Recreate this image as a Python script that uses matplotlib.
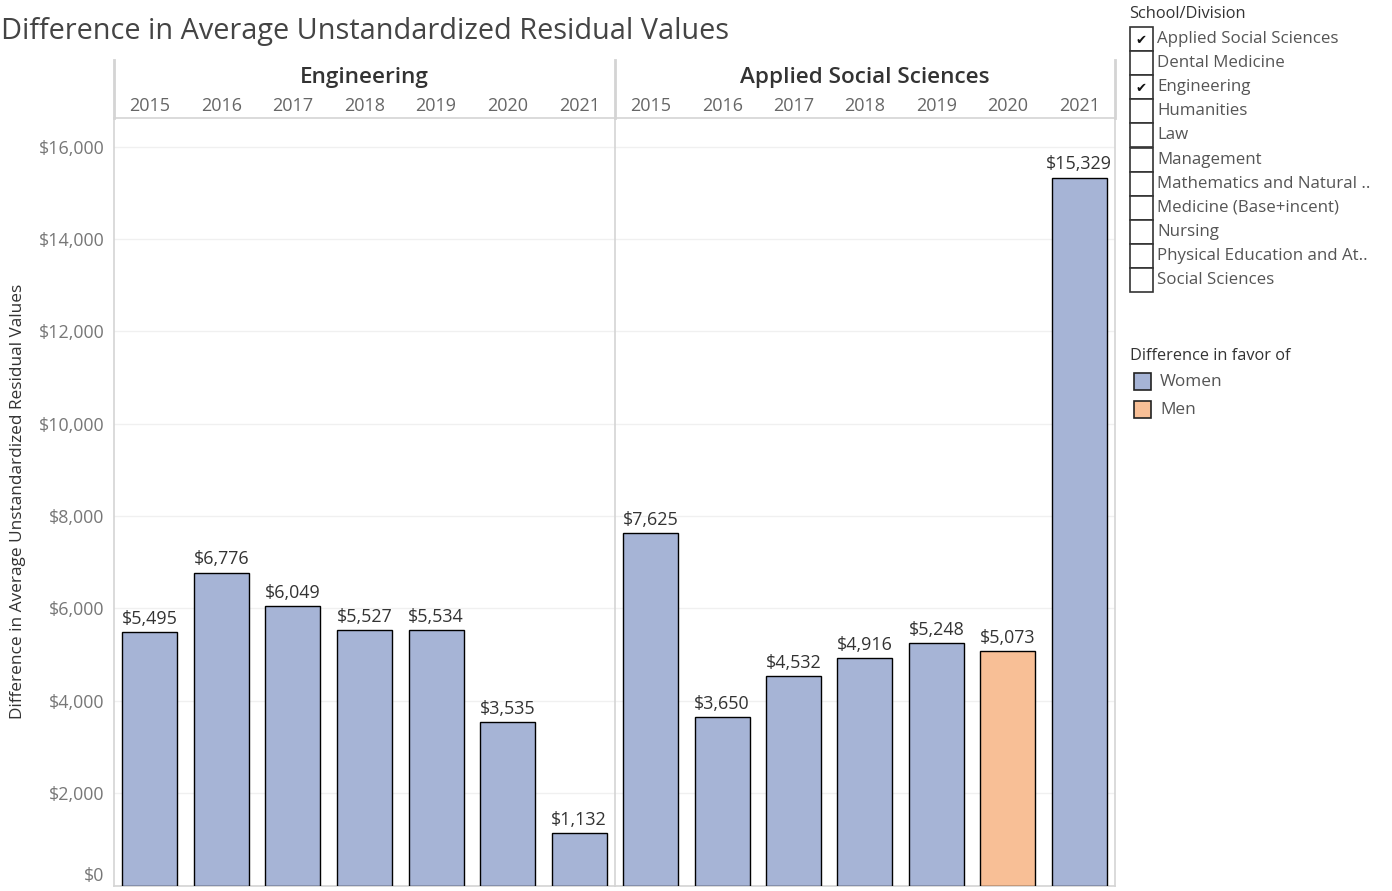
import matplotlib
matplotlib.use("Agg")
import matplotlib.pyplot as plt
from matplotlib.patches import Rectangle
from matplotlib.lines import Line2D

plt.rcParams['font.family'] = ['Open Sans', 'DejaVu Sans']

# ---- data ----
years = ["2015", "2016", "2017", "2018", "2019", "2020", "2021"]
panels = ["Engineering", "Applied Social Sciences"]
engineering_vals = [5495, 6776, 6049, 5527, 5534, 3535, 1132]
engineering_favor = ["Women"] * 7
social_vals = [7625, 3650, 4532, 4916, 5248, 5073, 15329]
social_favor = ["Women", "Women", "Women", "Women", "Women", "Men", "Women"]
divisions = ["Applied Social Sciences", "Dental Medicine", "Engineering", "Humanities",
             "Law", "Management", "Mathematics and Natural ..", "Medicine (Base+incent)",
             "Nursing", "Physical Education and At..", "Social Sciences"]
selected = {"Applied Social Sciences", "Engineering"}
favor_labels = ["Women", "Men"]
y_ticks = [0, 2000, 4000, 6000, 8000, 10000, 12000, 14000, 16000]

colors = {"Women": "#a6b4d6", "Men": "#f8bf96"}
GRID = "#f0f0f0"
LINE = "#d4d4d4"
TXT = "#333333"
TICK = "#777777"

W, H = 1392, 891
fig = plt.figure(figsize=(W / 100, H / 100), dpi=100)

def px_rect(x0, y0, x1, y1):
    return [x0 / W, 1 - y1 / H, (x1 - x0) / W, (y1 - y0) / H]

plot_top, plot_bot = 118, 885.5
edges = [114, 615, 1115]
ymax = 16620

series = [(engineering_vals, engineering_favor), (social_vals, social_favor)]
axes = []
for k, (vals, favor) in enumerate(series):
    ax = fig.add_axes(px_rect(edges[k], plot_top, edges[k + 1], plot_bot))
    axes.append(ax)
    xs = list(range(len(years)))
    ax.bar(xs, vals, width=0.77, color=[colors[f] for f in favor],
           edgecolor="black", linewidth=1.0, zorder=3)
    for x, v in zip(xs, vals):
        ax.annotate(f"${v:,}", (x, v), xytext=(0, 3), textcoords="offset points",
                    ha="center", va="bottom", fontsize=12.9, color=TXT, zorder=4)
    ax.set_xlim(-0.5, len(years) - 0.5)
    ax.set_ylim(0, ymax)
    ax.set_xticks([])
    ax.set_yticks(y_ticks)
    ax.yaxis.grid(True, color=GRID, linewidth=1.0, zorder=0)
    ax.set_axisbelow(True)
    for s in ["top", "right"]:
        ax.spines[s].set_visible(False)
    ax.spines["bottom"].set_color(LINE)
    ax.spines["bottom"].set_linewidth(1.2)
    ax.spines["left"].set_color(LINE)
    ax.spines["left"].set_linewidth(1.2)
    ax.tick_params(axis="y", length=0)
    if k == 0:
        ax.set_yticklabels([f"${t:,}" for t in y_ticks], fontsize=12.9, color=TICK)
        ax.tick_params(axis="y", pad=7)
        ax.get_yticklabels()[0].set_va("bottom")
    else:
        ax.set_yticklabels([])
    if k == 1:
        ax.spines["right"].set_visible(True)
        ax.spines["right"].set_color(LINE)
        ax.spines["right"].set_linewidth(1.2)

# overlay in pixel coordinates: header band, title, legends
hdr = fig.add_axes(px_rect(0, 0, W, H), facecolor="none")
hdr.set_xlim(0, W)
hdr.set_ylim(H, 0)
hdr.axis("off")

hdr.text(18, (plot_top + plot_bot) / 2,
         "Difference in Average Unstandardized Residual Values",
         rotation=90, ha="center", va="center", fontsize=12.4, color=TXT)

for e in edges:
    hdr.add_line(Line2D([e, e], [60, plot_top], color=LINE, linewidth=2.0))
hdr.add_line(Line2D([edges[0], edges[-1]], [plot_top, plot_top], color=LINE, linewidth=1.2))

for k, name in enumerate(panels):
    x0, x1 = edges[k], edges[k + 1]
    hdr.text((x0 + x1) / 2, 78, name, ha="center", va="center", fontsize=16.2,
             fontweight="semibold", color=TXT)
    step = (x1 - x0) / len(years)
    for i, yr in enumerate(years):
        hdr.text(x0 + step * (i + 0.5), 106, yr, ha="center", va="center",
                 fontsize=13, color="#666666")

hdr.text(1, 32, "Difference in Average Unstandardized Residual Values", ha="left",
         va="center", fontsize=20.8, color="#444444")

# School/Division filter
hdr.text(1129, 14, "School/Division", ha="left", va="center", fontsize=11.8, color=TXT)
row_h = 24.1
for i, d in enumerate(divisions):
    top = 27 + i * row_h
    hdr.add_patch(Rectangle((1129.5, top), 23, row_h, facecolor="white",
                            edgecolor="#333333", linewidth=1.2))
    cy = top + row_h / 2
    if d in selected:
        hdr.text(1141, cy + 1, "\u2714", ha="center", va="center", fontsize=9.5,
                 color="#111111", family="DejaVu Sans")
    hdr.text(1157, cy, d, ha="left", va="center", fontsize=12.2, color="#555555")

# colour legend
hdr.text(1130, 356, "Difference in favor of", ha="left", va="center", fontsize=11.8,
         color=TXT)
for i, lab in enumerate(favor_labels):
    top = 373 + i * 28
    hdr.add_patch(Rectangle((1134, top), 17, 17, facecolor=colors[lab],
                            edgecolor="#222222", linewidth=1.2))
    hdr.text(1160, top + 8.5, lab, ha="left", va="center", fontsize=12.4, color="#555555")

fig.savefig("out.png", dpi=100)
